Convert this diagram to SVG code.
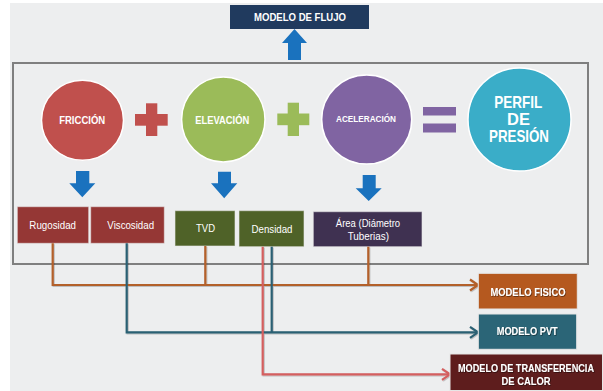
<svg xmlns="http://www.w3.org/2000/svg" width="603" height="391" viewBox="0 0 603 391">
<defs>
<style>
.t{font-family:"Liberation Sans",Arial,sans-serif;fill:#fff;text-anchor:middle}
.b{font-weight:bold}
.circ{stroke:#fff;stroke-width:1.5}
.box{stroke:#e8e8e8;stroke-width:1;stroke-opacity:0.6}
.arr{fill:#1a72be}
.ln{fill:none;stroke-width:2.2;stroke-linejoin:miter}
.or{stroke:#b3602a}
.tl{stroke:#2a6073}
.pk{stroke:#d45e5f}
.sh{filter:url(#ts)}
</style>
<filter id="ts" x="-5%" y="-20%" width="110%" height="140%">
<feDropShadow dx="0.7" dy="0.7" stdDeviation="0.3" flood-color="#000" flood-opacity="0.6"/>
</filter>
<filter id="ls" x="-5%" y="-5%" width="110%" height="110%">
<feDropShadow dx="0.8" dy="0.8" stdDeviation="0.5" flood-color="#000" flood-opacity="0.25"/>
</filter>
</defs>
<rect x="0" y="0" width="603" height="391" fill="#ffffff"/>
<rect x="10" y="3" width="593" height="388" fill="#edeeef"/>

<g id="marco">
<rect x="13" y="63" width="575" height="201" fill="none" stroke="#7f7f7f" stroke-width="2"/>
</g>

<g id="modelo-flujo">
<rect x="230" y="5" width="139" height="24" fill="#203a5e"/>
<text class="t b" x="300" y="21" font-size="11" textLength="92" lengthAdjust="spacingAndGlyphs">MODELO DE FLUJO</text>
<polygon class="arr" points="288,60 301,60 301,43 307,43 294.5,29 282,43 288,43"/>
</g>

<g id="friccion">
<ellipse class="circ" cx="82.5" cy="120.3" rx="41" ry="40" fill="#c0504d"/>
<text class="t b" x="82.2" y="123.5" font-size="11.5" textLength="46" lengthAdjust="spacingAndGlyphs">FRICCIÓN</text>
</g>
<g id="mas1">
<rect x="135" y="114" width="32.7" height="11.7" fill="#c0504d"/>
<rect x="146" y="103.3" width="11.3" height="32.7" fill="#c0504d"/>
</g>
<g id="elevacion">
<ellipse class="circ" cx="223.3" cy="119.5" rx="41.7" ry="42.5" fill="#9bbb59"/>
<text class="t b" x="222.3" y="123.5" font-size="11.5" textLength="54" lengthAdjust="spacingAndGlyphs">ELEVACIÓN</text>
</g>
<g id="mas2">
<rect x="277.3" y="113.5" width="32" height="11.7" fill="#9bbb59"/>
<rect x="287.7" y="102.7" width="11.3" height="33.3" fill="#9bbb59"/>
</g>
<g id="aceleracion">
<ellipse class="circ" cx="366.7" cy="119.5" rx="45" ry="44.5" fill="#8064a2"/>
<text class="t b" x="366" y="122.3" font-size="8.3" textLength="60" lengthAdjust="spacingAndGlyphs">ACELERACIÓN</text>
</g>
<g id="igual">
<rect x="423" y="107" width="33" height="8.5" fill="#8064a2"/>
<rect x="423" y="123.5" width="33" height="9" fill="#8064a2"/>
</g>
<g id="perfil">
<ellipse class="circ" cx="519.5" cy="119.5" rx="51.5" ry="51.5" fill="#3aadc8"/>
<text class="t b" x="518.3" y="108" font-size="16.5" textLength="48" lengthAdjust="spacingAndGlyphs">PERFIL</text>
<text class="t b" x="518.5" y="124.5" font-size="16.5">DE</text>
<text class="t b" x="519" y="141.7" font-size="16.5" textLength="60" lengthAdjust="spacingAndGlyphs">PRESIÓN</text>
</g>

<g id="flechas-abajo">
<polygon class="arr" points="76,171 89.3,171 89.3,183.3 95.3,183.3 82.3,197.3 69.3,183.3 76,183.3"/>
<polygon class="arr" points="218,171.7 231,171.7 231,183.3 237.3,183.3 224.2,198.3 211,183.3 218,183.3"/>
<polygon class="arr" points="362.7,175 375.7,175 375.7,188.3 381.7,188.3 368.7,201 355.7,188.3 362.7,188.3"/>
</g>

<g id="rugosidad">
<rect class="box" x="17.3" y="206.7" width="71.4" height="36.6" fill="#953735"/>
<text class="t" x="52.7" y="228.5" font-size="11" textLength="46.7" lengthAdjust="spacingAndGlyphs">Rugosidad</text>
</g>
<g id="viscosidad">
<rect class="box" x="90.7" y="206.7" width="73.6" height="36.6" fill="#953735"/>
<text class="t" x="130.7" y="228.5" font-size="11" textLength="46.7" lengthAdjust="spacingAndGlyphs">Viscosidad</text>
</g>
<g id="tvd">
<rect class="box" x="175" y="210.7" width="60" height="35.3" fill="#4f6228"/>
<text class="t" x="205.5" y="231.7" font-size="11" textLength="19" lengthAdjust="spacingAndGlyphs">TVD</text>
</g>
<g id="densidad">
<rect class="box" x="239" y="210.7" width="65" height="36" fill="#4f6228"/>
<text class="t" x="272" y="232.5" font-size="11" textLength="41" lengthAdjust="spacingAndGlyphs">Densidad</text>
</g>
<g id="area">
<rect class="box" x="313.3" y="211.7" width="108.7" height="35" fill="#3f3151"/>
<text class="t" x="368" y="226.7" font-size="11" textLength="64.3" lengthAdjust="spacingAndGlyphs">Área (Diámetro</text>
<text class="t" x="368.3" y="240" font-size="11" textLength="41.3" lengthAdjust="spacingAndGlyphs">Tuberias)</text>
</g>

<g id="conectores" filter="url(#ls)">
<path class="ln or" d="M52.7,243.3 V285 H477"/>
<path class="ln or" d="M205.3,246 V285"/>
<path class="ln or" d="M368.3,246.7 V285"/>
<path class="ln or" d="M470,279.5 L478,285 L470,290.5"/>
<path class="ln tl" d="M126.7,243.3 V332.3 H477"/>
<path class="ln tl" d="M271.7,246.7 V332.3"/>
<path class="ln tl" d="M470,326.8 L478,332.3 L470,337.8"/>
<path class="ln pk" d="M262.7,246.7 V374.3 H449"/>
<path class="ln pk" d="M442,368.8 L450,374.3 L442,379.8"/>
</g>

<g id="modelo-fisico">
<rect x="478.3" y="273.3" width="99" height="35.7" fill="#b5591f" stroke="#e6e6e6" stroke-width="1"/>
<text class="t b sh" x="528" y="295.7" font-size="11.5" textLength="75" lengthAdjust="spacingAndGlyphs">MODELO FISICO</text>
</g>
<g id="modelo-pvt">
<rect x="478.3" y="314" width="98.4" height="35.3" fill="#2b6577" stroke="#e6e6e6" stroke-width="1"/>
<text class="t b sh" x="527.2" y="335" font-size="11.5" textLength="61" lengthAdjust="spacingAndGlyphs">MODELO PVT</text>
</g>
<g id="modelo-calor">
<rect x="450" y="354" width="152.5" height="36.5" fill="#5e1d1d" stroke="#e6e6e6" stroke-width="1"/>
<text class="t b sh" x="526" y="371.5" font-size="11" textLength="136" lengthAdjust="spacingAndGlyphs">MODELO DE TRANSFERENCIA</text>
<text class="t b sh" x="526" y="385" font-size="11" textLength="49" lengthAdjust="spacingAndGlyphs">DE CALOR</text>
</g>
</svg>
